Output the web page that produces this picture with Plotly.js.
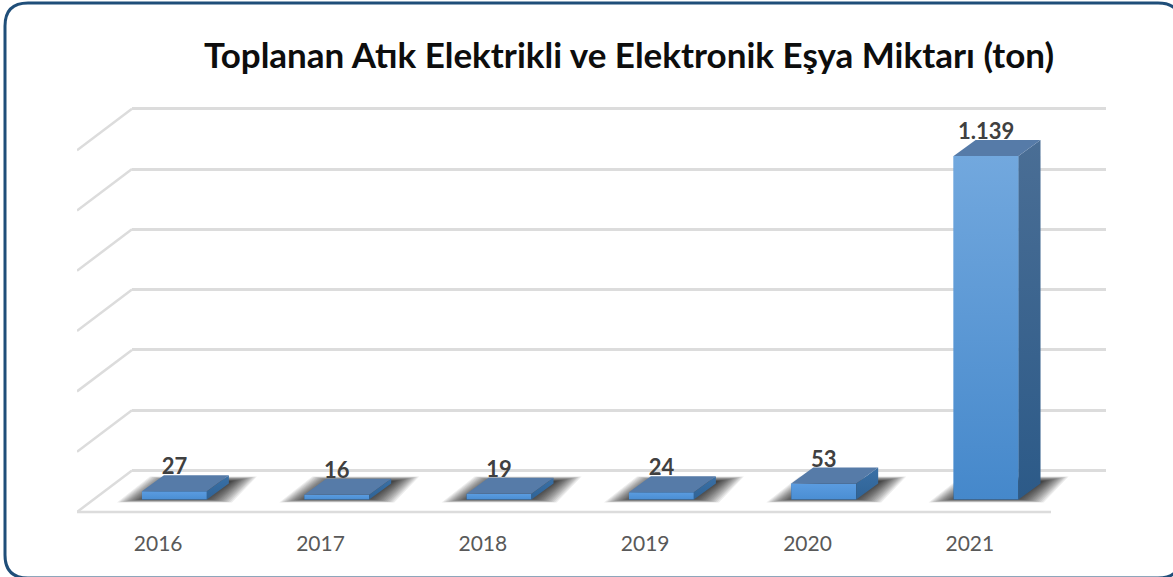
<!DOCTYPE html>
<html>
<head>
<meta charset="utf-8">
<script src="https://cdn.plot.ly/plotly-3.0.1.min.js"></script>
<style>html,body{margin:0;padding:0;background:#fff;overflow:hidden}#chart{width:1173px;height:577px}</style>
</head>
<body>
<div id="chart"></div>
<script>
// Data
const titleText = 'Toplanan Atık Elektrikli ve Elektronik Eşya Miktarı (ton)';
const years = ['2016', '2017', '2018', '2019', '2020', '2021'];
const values = [27, 16, 19, 24, 53, 1139];
const valueLabels = ['27', '16', '19', '24', '53', '1.139'];
const gridTicks = [0, 200, 400, 600, 800, 1000, 1200];

// Canvas and 3D projection settings
const W = 1173, H = 577;
const pxPerValue = 0.3015, catPx = 162.33;
const floorBackPx = 470.5, baselinePx = 499.5, floorFrontPx = 512;
const wallDX = 55 / catPx, wallDY = (floorFrontPx - floorBackPx) / pxPerValue;
const wallLift = (baselinePx - floorBackPx) / pxPerValue;
const barOffset = 0.1, barWidth = 0.4;
const barDX = 22 / catPx, barDY = 16 / pxPerValue;
const idx = years.map((_, i) => i);
const topPx = 98, wallBottomPx = 482, frontBottomPx = 518;

const px = (a, b) => [a / W, b / W];
const py = (top, bottom) => [1 - bottom / H, 1 - top / H];
const dxPx = p => p / catPx, dyPx = p => -p / pxPerValue;

const traces = [];

// A hidden anchor trace keeps the back-wall axes (native gridlines) alive
traces.push({type: 'scatter', mode: 'none', x: [0], y: [0], xaxis: 'x', yaxis: 'y', hoverinfo: 'skip', showlegend: false});

// Side-wall diagonals and the front floor edge
const diagX = [], diagY = [];
gridTicks.forEach(t => {
  diagX.push(-0.5 + wallDX, -0.5, null);
  diagY.push(t + wallLift, t + wallLift - wallDY, null);
});
diagX.push(-0.5, 5.5);
diagY.push(wallLift - wallDY, wallLift - wallDY);
traces.push({type: 'scatter', mode: 'lines', x: diagX, y: diagY, xaxis: 'x2', yaxis: 'y2',
  cliponaxis: false, line: {color: '#dcdcdc', width: 2.5}, hoverinfo: 'skip', showlegend: false});

// Soft floor shadows: nested translucent parallelograms, offsets in pixels from the bar's left front corner
const shadowLayers = 18;
for (let k = 0; k < shadowLayers; k++) {
  const g = 1 - k / (shadowLayers - 1);
  const lerp = (inner, outer) => inner + (outer - inner) * g;
  const corners = [
    [lerp(6, -25), lerp(-1, 3)],
    [lerp(32, 8), lerp(-18, -23)],
    [lerp(88, 115), lerp(-18, -23)],
    [lerp(62, 90), lerp(-1, 3)]
  ];
  const sx = [], sy = [];
  idx.forEach(i => {
    const x0 = i + barOffset - barWidth / 2;
    corners.concat([corners[0]]).forEach(c => { sx.push(x0 + dxPx(c[0])); sy.push(dyPx(c[1])); });
    sx.push(null); sy.push(null);
  });
  traces.push({type: 'scatter', mode: 'lines', x: sx, y: sy, xaxis: 'x2', yaxis: 'y2', fill: 'toself',
    fillcolor: 'rgba(0,0,0,0.07)', line: {width: 0}, hoverinfo: 'skip', showlegend: false, cliponaxis: false});
}

// Front faces as real bars
traces.push({type: 'bar', x: idx.map(i => i + barOffset), y: values, width: barWidth,
  xaxis: 'x2', yaxis: 'y2', marker: {color: '#4f94d8', line: {width: 0}},
  hovertext: years, hoverinfo: 'text+y', showlegend: false, cliponaxis: false});

idx.forEach(i => {
  const v = values[i], l = i + barOffset - barWidth / 2, r = l + barWidth;
  const tall = v > 100;
  traces.push({type: 'scatter', mode: 'lines', x: [l, r, r, l, l], y: [0, 0, v, v, 0], xaxis: 'x2', yaxis: 'y2',
    fill: 'toself', line: {width: 0}, hoverinfo: 'skip', showlegend: false,
    fillgradient: {type: 'vertical', start: 0, stop: v,
      colorscale: tall ? [[0, '#4588cb'], [1, '#72a8de']] : [[0, '#4a8ed3'], [1, '#5b9ce0']]}});
  traces.push({type: 'scatter', mode: 'lines',
    x: [r, r + barDX, r + barDX, r, r], y: [0, barDY, v + barDY, v, 0], xaxis: 'x2', yaxis: 'y2',
    fill: 'toself', line: {width: 0}, hoverinfo: 'skip', showlegend: false, cliponaxis: false,
    fillgradient: {type: 'vertical', start: 0, stop: v + barDY,
      colorscale: tall ? [[0, '#2c5a88'], [1, '#4a6e95']] : [[0, '#2f6396'], [1, '#3a70a6']]}});
  traces.push({type: 'scatter', mode: 'lines',
    x: [l, r, r + barDX, l + barDX, l], y: [v, v, v + barDY, v + barDY, v], xaxis: 'x2', yaxis: 'y2',
    fill: 'toself', fillcolor: '#567ba8', line: {width: 0}, hoverinfo: 'skip', showlegend: false, cliponaxis: false});
});

// Data labels
traces.push({type: 'scatter', mode: 'text', x: idx.map(i => i + barOffset), y: values.map(v => v + barDY - 15),
  text: valueLabels, textposition: 'top center', xaxis: 'x2', yaxis: 'y2', cliponaxis: false,
  textfont: {family: 'Lato, sans-serif', size: 22, color: '#404040', weight: 700},
  hoverinfo: 'skip', showlegend: false});

// Rounded frame, running just past the right and bottom edges of the page
const r = 23, fL = 5, fT = 3, fR = 1181, fB = 578;
const X = v => v / W, Y = v => 1 - v / H;
const framePath = `M ${X(fL + r)} ${Y(fT)} L ${X(fR - r)} ${Y(fT)} Q ${X(fR)} ${Y(fT)} ${X(fR)} ${Y(fT + r)} ` +
  `L ${X(fR)} ${Y(fB - r)} Q ${X(fR)} ${Y(fB)} ${X(fR - r)} ${Y(fB)} L ${X(fL + r)} ${Y(fB)} ` +
  `Q ${X(fL)} ${Y(fB)} ${X(fL)} ${Y(fB - r)} L ${X(fL)} ${Y(fT + r)} Q ${X(fL)} ${Y(fT)} ${X(fL + r)} ${Y(fT)} Z`;

const layout = {
  width: W, height: H, margin: {l: 0, r: 0, t: 0, b: 0, pad: 0},
  paper_bgcolor: '#fff', plot_bgcolor: 'rgba(0,0,0,0)', showlegend: false, barmode: 'overlay',
  font: {family: 'Lato, sans-serif'},
  title: {text: titleText, x: 629 / W, xanchor: 'center', y: 1 - 55.5 / H, yanchor: 'middle',
    font: {family: 'Lato, sans-serif', size: 35, color: '#0d0d0d', weight: 700}},
  // back wall: gridlines only
  xaxis: {domain: px(132, 1106), range: [-0.5, 5.5], visible: false, fixedrange: true},
  yaxis: {domain: py(topPx, wallBottomPx),
    range: [(floorBackPx - wallBottomPx) / pxPerValue, (floorBackPx - topPx) / pxPerValue],
    tickvals: gridTicks, showgrid: true, gridcolor: '#dcdcdc', gridwidth: 2.5,
    zeroline: false, showticklabels: false, ticks: '', showline: false, fixedrange: true},
  // front plane: bars and year labels; extends right so the last shadow is not clipped
  xaxis2: {domain: px(77, 1106), range: [-0.5, 5.5 + 55 / catPx], anchor: 'y2', tickvals: idx, ticktext: years, ticks: '',
    showgrid: false, zeroline: false, showline: false, ticklabelstandoff: 11,
    tickfont: {family: 'Lato, sans-serif', size: 21, color: '#595959'}, fixedrange: true},
  yaxis2: {domain: py(topPx, frontBottomPx), anchor: 'x2',
    range: [(baselinePx - frontBottomPx) / pxPerValue, (baselinePx - topPx) / pxPerValue], visible: false, fixedrange: true},
  shapes: [{type: 'path', xref: 'paper', yref: 'paper', layer: 'above', line: {color: '#1f4e79', width: 3}, path: framePath}]
};

Plotly.newPlot('chart', traces, layout, {displayModeBar: false, responsive: false});
</script>
</body>
</html>
